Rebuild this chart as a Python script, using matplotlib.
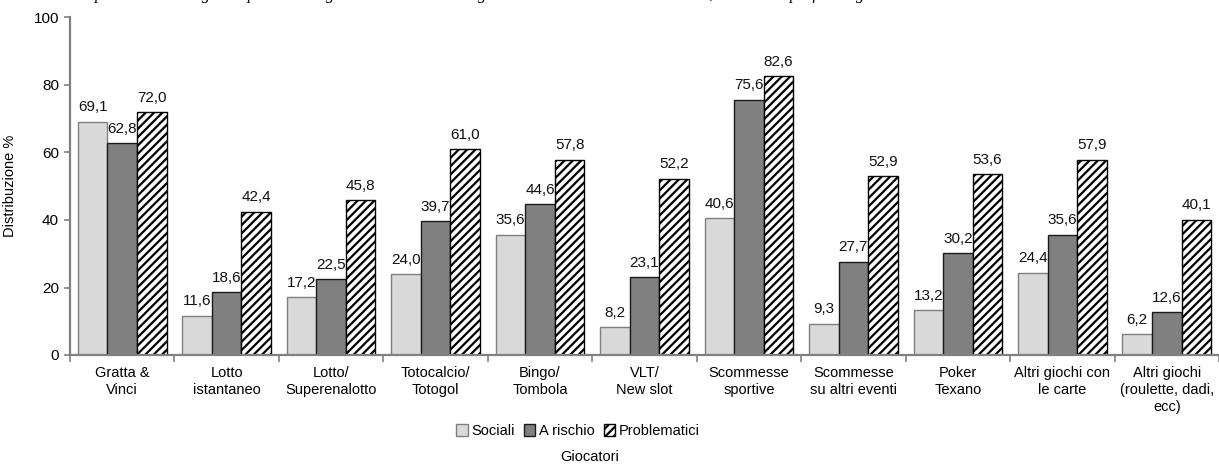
import matplotlib
matplotlib.use("Agg")
import matplotlib.pyplot as plt
import numpy as np

categories = ["Gratta &\nVinci", "Lotto\nistantaneo", "Lotto/\nSuperenalotto",
              "Totocalcio/\nTotogol", "Bingo/\nTombola", "VLT/\nNew slot",
              "Scommesse\nsportive", "Scommesse\nsu altri eventi", "Poker\nTexano",
              "Altri giochi con\nle carte", "Altri giochi\n(roulette, dadi,\necc)"]
sociali = [69.1, 11.6, 17.2, 24.0, 35.6, 8.2, 40.6, 9.3, 13.2, 24.4, 6.2]
a_rischio = [62.8, 18.6, 22.5, 39.7, 44.6, 23.1, 75.6, 27.7, 30.2, 35.6, 12.6]
problematici = [72.0, 42.4, 45.8, 61.0, 57.8, 52.2, 82.6, 52.9, 53.6, 57.9, 40.1]
series_names = ["Sociali", "A rischio", "Problematici"]
yticks = [0, 20, 40, 60, 80, 100]

plt.rcParams['font.family'] = ['Liberation Sans Narrow', 'Liberation Sans', 'DejaVu Sans']
plt.rcParams['hatch.linewidth'] = 1.6

fig = plt.figure(figsize=(12.19, 4.66), dpi=100)
ax = fig.add_axes([70/1219, 1 - 355/466, (1219 - 70)/1219, (355 - 17.5)/466])

x = np.arange(len(categories))
w = 0.283
styles = [dict(color="#d9d9d9", edgecolor="#7f7f7f", hatch=None),
          dict(color="#808080", edgecolor="#1a1a1a", hatch=None),
          dict(color="white", edgecolor="black", hatch="////")]
for i, (vals, st, name) in enumerate(zip([sociali, a_rischio, problematici], styles, series_names)):
    pos = x + (i - 1) * w
    ax.bar(pos, vals, width=w, color=st["color"], edgecolor=st["edgecolor"],
           hatch=st["hatch"], linewidth=1.0, label=name, zorder=2)
    for p, v in zip(pos, vals):
        ax.text(p, v + 2.2, f"{v:.1f}".replace(".", ","), ha="center", va="bottom",
                fontsize=11, color="#111111")

ax.set_xlim(-0.5, len(categories) - 0.5)
ax.set_ylim(0, 100)
ax.set_yticks(yticks)
ax.set_yticklabels([str(t) for t in yticks], fontsize=11)
ax.set_xticks(np.arange(len(categories) + 1) - 0.5)
ax.set_xticklabels([])
ax.set_xticks(x, minor=True)
ax.set_xticklabels(categories, minor=True, fontsize=10.5, linespacing=1.25)
ax.tick_params(axis="x", which="minor", length=0, pad=8)
ax.tick_params(axis="x", which="major", length=5, color="#808080", width=1.2)
ax.tick_params(axis="y", length=4, color="#808080", width=1.2, pad=4)
for s in ["top", "right"]:
    ax.spines[s].set_visible(False)
for s in ["left", "bottom"]:
    ax.spines[s].set_color("#808080")
    ax.spines[s].set_linewidth(1.6)

ax.set_ylabel("Distribuzione %", fontsize=10.5, labelpad=12)

leg = fig.legend(loc="center", bbox_to_anchor=(578/1219, 1 - 431/466), ncol=3,
                 frameon=False, fontsize=10.5, handlelength=0.8, handleheight=0.8,
                 handletextpad=0.25, columnspacing=0.6)
fig.text(590/1219, 1 - 457/466, "Giocatori", ha="center", va="center", fontsize=10.5)

fig.text(0.0, 1 + 1/466, "Distribuzione percentuale dei giochi praticati dagli studenti che hanno giocato d'azzardo nell'ultimo anno, secondo il profilo di gioco",
         ha="left", va="baseline", fontsize=12, style="italic",
         family=["Liberation Serif", "DejaVu Serif"])

fig.savefig("out.png", dpi=100)
